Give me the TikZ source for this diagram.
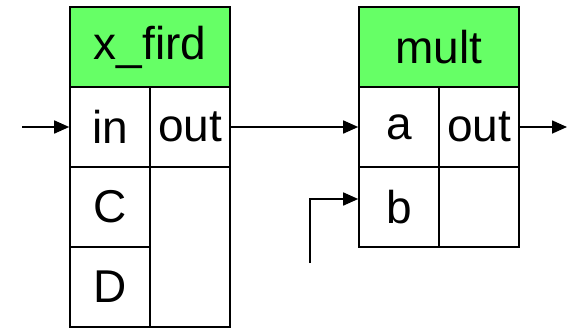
\documentclass[tikz,border=0pt]{standalone}
\usepackage{fontspec}
\setmainfont{Liberation Sans}
\usetikzlibrary{arrows.meta}
\definecolor{titlegreen}{HTML}{66FF66}
\begin{document}
\begin{tikzpicture}[x=1pt,y=-1pt,
  cell/.style={draw=black,line width=1.6pt,rectangle,inner sep=0pt,
    minimum width=80pt,minimum height=80pt,
    font=\fontsize{46}{48}\selectfont},
  title/.style={cell,fill=titlegreen,minimum width=160pt},
  arr/.style={line width=1.6pt,-{Triangle[length=15pt,width=13pt]}}]
\useasboundingbox (0,0) rectangle (567,327);
% left block
\node[title] (xt) at (150,47) {x\_fird};
\node[cell] (xin) at (110,127) {in};
\node[cell] (xout) at (190,127) {out};
\node[cell] (xc) at (110,207) {C};
\node[cell] (xd) at (110,287) {D};
\node[cell,minimum height=160pt] (xe) at (190,247) {};
% right block
\node[title] (mt) at (439,47) {mult};
\node[cell] (ma) at (399,127) {a};
\node[cell] (mout) at (479,127) {out};
\node[cell] (mb) at (399,207) {b};
\node[cell] (me) at (479,207) {};
% connectors
\coordinate (inS) at (22,127);
\coordinate (outE) at (567,127);
\coordinate (bS) at (310,263);
\draw[arr] (inS) -- (xin.west);
\draw[arr] (xout.east) -- (ma.west);
\draw[arr] (mout.east) -- (outE);
\draw[arr] (bS) |- ([yshift=8pt]mb.west);
\end{tikzpicture}
\end{document}
